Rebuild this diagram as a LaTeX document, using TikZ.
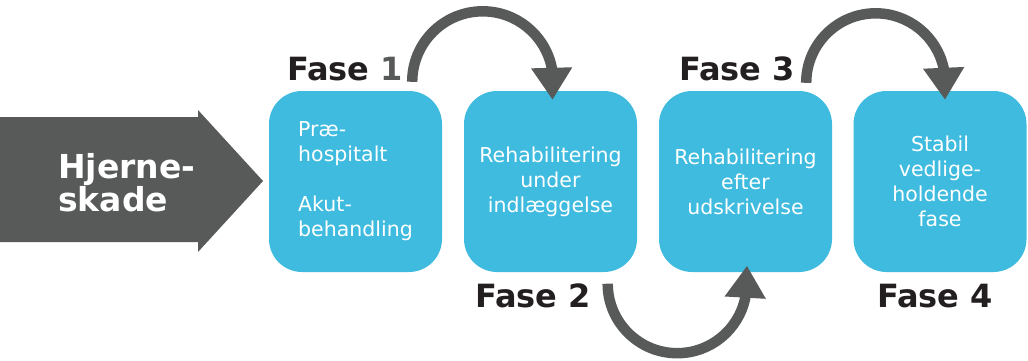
\documentclass[tikz,border=0pt]{standalone}
\usepackage{fontspec}
\setmainfont{DejaVu Sans}
\usetikzlibrary{arrows.meta,calc}
\definecolor{boxcyan}{HTML}{3EBBDE}
\definecolor{arrgray}{HTML}{575A59}
\definecolor{fasetxt}{HTML}{231F20}
\begin{document}
\begin{tikzpicture}[x=1pt,y=1pt,
  phasebox/.style={fill=boxcyan, rounded corners=33pt, minimum width=173pt, minimum height=181pt,
    inner sep=0pt, text=white, align=center, font=\fontsize{20.5}{25}\selectfont},
  faselbl/.style={inner sep=0pt, anchor=base west, text=fasetxt, font=\fontsize{32}{36}\selectfont\bfseries},
  curvearrow/.style={draw=arrgray, line width=10.5pt, -{Triangle[width=39pt,length=32pt]}, fill=none}
]
\useasboundingbox (0,0) rectangle (1028,360);
% big input arrow
\fill[arrgray] (0,243) -- (198,243) -- (198,250) -- (263,179) -- (198,108) -- (198,118) -- (0,118) -- cycle;
\node[inner sep=0pt, anchor=west, text=white, align=left, font=\fontsize{33}{28.5}\selectfont\bfseries] (hs) at (58,177) {Hjerne-\\skade};
% phase boxes
\node[phasebox] (b1) at (355.5,178.5) {\begin{tabular}{@{}l@{}}Præ-\\hospitalt\\[25pt]Akut-\\behandling\end{tabular}};
\node[phasebox] (b2) at (550.5,178.5) {Rehabilitering\\under\\indlæggelse};
\node[phasebox] (b3) at (745.5,178.5) {Rehabilitering\\efter\\udskrivelse};
\node[phasebox] (b4) at (940,178.5) {Stabil\\vedlige-\\holdende\\fase};
% labels
\node[faselbl] (f1) at (287,280) {Fase \textcolor{arrgray}{1}};
\node[faselbl] (f3) at (679,280) {Fase 3};
\node[faselbl] (f2) at (475,53) {Fase 2};
\node[faselbl] (f4) at (877,53) {Fase 4};
% curved arrows
\coordinate (s1) at ($(b1.north east)+(-30,9)$);
\coordinate (t1) at ($(b2.north)+(2,-9)$);
\coordinate (s3) at ($(b3.north east)+(-26,8)$);
\coordinate (t3) at ($(b4.north)+(5,-9)$);
\coordinate (s2) at ($(b2.south east)+(-29.5,-11.5)$);
\coordinate (t2) at ($(b3.south)+(1.5,6.5)$);
\draw[curvearrow] (s1) arc[start angle=180, end angle=12, radius=70.5pt] -- (t1);
\draw[curvearrow] (s3) arc[start angle=180, end angle=12, radius=69.5pt] -- (t3);
\draw[curvearrow] (s2) arc[start angle=180, end angle=348, radius=69.5pt] -- (t2);
\end{tikzpicture}
\end{document}
